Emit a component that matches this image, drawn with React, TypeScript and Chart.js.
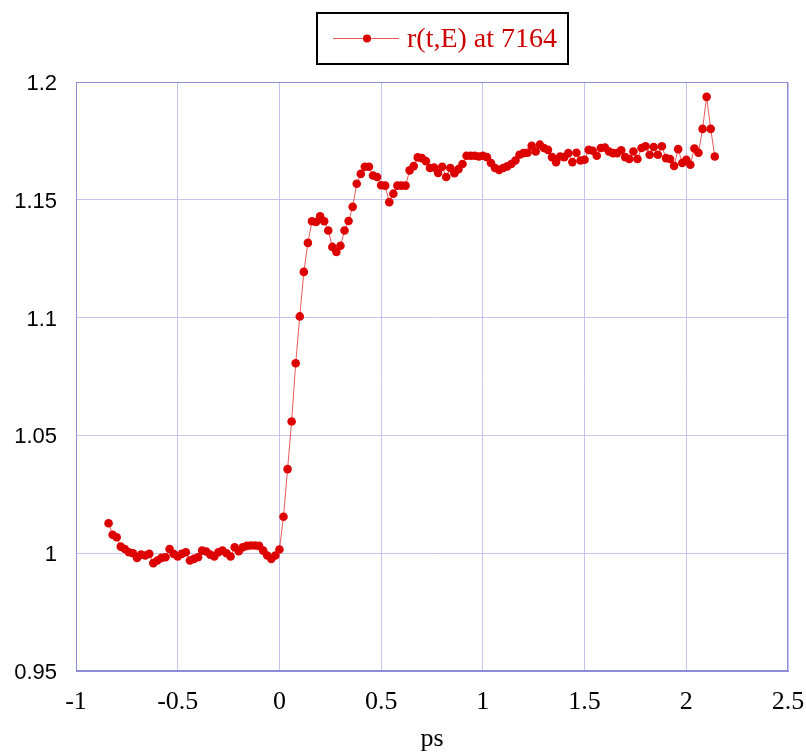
import React, { useEffect, useRef } from "react";
import { Chart, registerables } from "chart.js";

Chart.register(...registerables);

const seriesLabel = "r(t,E) at 7164";
const xTitle = "ps";

const times = [
  -0.84, -0.82, -0.8, -0.78, -0.76, -0.74, -0.72, -0.7, -0.68, -0.66,
  -0.64, -0.62, -0.6, -0.58, -0.56, -0.54, -0.52, -0.5, -0.48, -0.46,
  -0.44, -0.42, -0.4, -0.38, -0.36, -0.34, -0.32, -0.3, -0.28, -0.26,
  -0.24, -0.22, -0.2, -0.18, -0.16, -0.14, -0.12, -0.1, -0.08, -0.06,
  -0.04, -0.02, 0.0,
  0.02, 0.04, 0.06, 0.08, 0.1, 0.12, 0.14, 0.16, 0.18, 0.2,
  0.22, 0.24, 0.26, 0.28, 0.3, 0.32, 0.34, 0.36, 0.38, 0.4,
  0.42, 0.44, 0.46, 0.48, 0.5, 0.52, 0.54, 0.56, 0.58, 0.6,
  0.62, 0.64, 0.66, 0.68, 0.7, 0.72, 0.74, 0.76, 0.78, 0.8,
  0.82, 0.84, 0.86, 0.88, 0.9, 0.92, 0.94, 0.96, 0.98, 1.0,
  1.02, 1.04, 1.06, 1.08, 1.1, 1.12, 1.14, 1.16, 1.18, 1.2,
  1.22, 1.24, 1.26, 1.28, 1.3, 1.32, 1.34, 1.36, 1.38, 1.4,
  1.42, 1.44, 1.46, 1.48, 1.5, 1.52, 1.54, 1.56, 1.58, 1.6,
  1.62, 1.64, 1.66, 1.68, 1.7, 1.72, 1.74, 1.76, 1.78, 1.8,
  1.82, 1.84, 1.86, 1.88, 1.9, 1.92, 1.94, 1.96, 1.98, 2.0,
  2.02, 2.04, 2.06, 2.08, 2.1, 2.12, 2.14,
];

const ratio = [
  1.0127, 1.0078, 1.0068, 1.0028, 1.0018, 1.0004, 1.0, 0.998, 0.9994, 0.999,
  0.9997, 0.9958, 0.9969, 0.998, 0.9983, 1.0018, 0.9997, 0.9986, 0.9997, 1.0004,
  0.9969, 0.9976, 0.9983, 1.0011, 1.0007, 0.9994, 0.9986, 1.0004, 1.0011, 1.0,
  0.9986, 1.0025, 1.0008, 1.0025, 1.0031, 1.0033, 1.0033, 1.0031, 1.0011, 0.999,
  0.9976, 0.999, 1.0016,
  1.0155, 1.0357, 1.0559, 1.0806, 1.1005, 1.1194, 1.1317, 1.1409, 1.1406, 1.143,
  1.1409, 1.137, 1.13, 1.1279, 1.1305, 1.137, 1.141, 1.147, 1.1568, 1.161,
  1.164, 1.164, 1.1603, 1.1597, 1.1562, 1.156, 1.149, 1.1526, 1.156, 1.156,
  1.156, 1.1625, 1.1643, 1.168, 1.1677, 1.1664, 1.1635, 1.1637, 1.1614, 1.164,
  1.1597, 1.1635, 1.1613, 1.163, 1.1652, 1.1687, 1.1687, 1.1687, 1.1684, 1.1687,
  1.1681, 1.1656, 1.1635, 1.1627, 1.1635, 1.1642, 1.1652, 1.1667, 1.1691, 1.1698,
  1.17, 1.1729, 1.1705, 1.1734, 1.172, 1.1712, 1.1681, 1.166, 1.1684, 1.1681,
  1.1698, 1.166, 1.17, 1.1667, 1.167, 1.1712, 1.1708, 1.1687, 1.172, 1.1722,
  1.1705, 1.1698, 1.1698, 1.171, 1.1681, 1.1673, 1.1705, 1.1673, 1.172, 1.1727,
  1.1691, 1.1724, 1.1691, 1.1727, 1.1677, 1.1673, 1.1644, 1.1715, 1.1656, 1.167,
  1.1649, 1.1718, 1.17, 1.1801, 1.1937, 1.1801, 1.1684,
];

const gridColor = "rgb(196,196,238)";
const axisBorderColor = "rgb(140,140,215)";
const markColor = "rgb(221,0,0)";
const lineColor = "rgba(221,0,0,0.65)";
const legendTextColor = "rgb(204,0,0)";

const fmt = (v: number | string) => String(Number(Number(v).toFixed(3)));

export default function App() {
  const ref = useRef<HTMLCanvasElement>(null);

  useEffect(() => {
    document.body.style.margin = "0";
    const frame = {
      id: "frame",
      beforeDatasetsDraw(chart: any) {
        const { left, top, right, bottom } = chart.chartArea;
        const ctx = chart.ctx as CanvasRenderingContext2D;
        ctx.save();
        ctx.strokeStyle = axisBorderColor;
        ctx.lineWidth = 1;
        ctx.strokeRect(left + 0.5, top + 0.5, right - left - 1, bottom - top - 1);
        ctx.restore();
      },
    };
    const legendBox = {
      id: "legendBox",
      afterDraw(chart: any) {
        const ctx = chart.ctx as CanvasRenderingContext2D;
        ctx.save();
        ctx.fillStyle = "#fff";
        ctx.fillRect(317, 13, 251, 51);
        ctx.strokeStyle = "#000";
        ctx.lineWidth = 2;
        ctx.strokeRect(317, 13, 251, 51);
        ctx.strokeStyle = lineColor;
        ctx.lineWidth = 1;
        ctx.beginPath();
        ctx.moveTo(333, 38.5);
        ctx.lineTo(399, 38.5);
        ctx.stroke();
        ctx.fillStyle = markColor;
        ctx.beginPath();
        ctx.arc(367, 38.5, 4, 0, Math.PI * 2);
        ctx.fill();
        ctx.fillStyle = legendTextColor;
        ctx.font = "28px 'Liberation Serif'";
        ctx.textBaseline = "middle";
        ctx.textAlign = "left";
        ctx.fillText(seriesLabel, 407, 40);
        ctx.restore();
      },
    };

    const chart = new Chart(ref.current as HTMLCanvasElement, {
      type: "line",
      data: {
        datasets: [
          {
            label: seriesLabel,
            data: times.map((t, i) => ({ x: t, y: ratio[i] })),
            borderColor: lineColor,
            borderWidth: 1,
            pointRadius: 4.3,
            pointBackgroundColor: markColor,
            pointBorderColor: markColor,
            pointBorderWidth: 0,
            tension: 0,
          },
        ],
      },
      options: {
        responsive: false,
        animation: false,
        layout: { padding: { top: 82, right: 18, left: 0, bottom: 0 } },
        plugins: { legend: { display: false }, tooltip: { enabled: false } },
        scales: {
          x: {
            type: "linear",
            min: -1,
            max: 2.5,
            ticks: {
              stepSize: 0.5,
              callback: (v: any) => fmt(v),
              font: { family: "'Liberation Serif'", size: 26 },
              color: "#000",
              padding: 16,
              maxRotation: 0,
            },
            grid: { color: gridColor, drawTicks: false },
            border: { color: axisBorderColor },
            title: {
              display: true,
              text: xTitle,
              font: { family: "'Liberation Serif'", size: 26 },
              color: "#000",
              padding: { top: 0, bottom: 0 },
            },
            afterFit: (s: any) => {
              s.height = 84;
              s.paddingRight = 0;
              s.paddingLeft = 0;
            },
          },
          y: {
            type: "linear",
            min: 0.95,
            max: 1.2,
            ticks: {
              stepSize: 0.05,
              callback: (v: any) => fmt(v),
              font: { family: "'Liberation Sans'", size: 22 },
              color: "#000",
              padding: 19,
              labelOffset: 2,
            },
            grid: { color: gridColor, drawTicks: false },
            border: { color: axisBorderColor },
            afterFit: (s: any) => {
              s.width = 76;
              s.paddingTop = 0;
              s.paddingBottom = 0;
            },
          },
        },
      },
      plugins: [frame, legendBox],
    } as any);
    return () => chart.destroy();
  }, []);

  return (
    <div style={{ width: 806, height: 755 }}>
      <canvas ref={ref} width={806} height={755} />
    </div>
  );
}
